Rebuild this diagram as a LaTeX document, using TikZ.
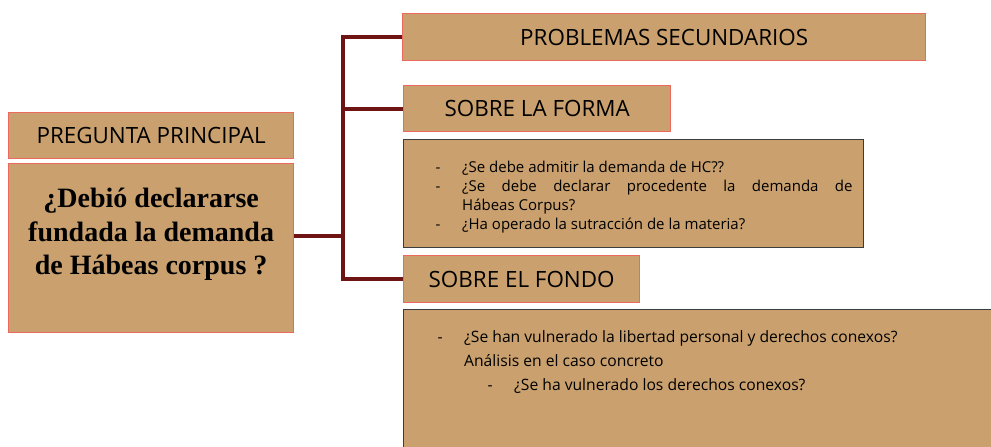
\documentclass[tikz,border=0pt]{standalone}
\usepackage{fontspec}
\setmainfont{Open Sans}
\newfontfamily\questionfont{Liberation Serif}

\definecolor{boxtan}{RGB}{201,160,110}
\definecolor{boxedge}{RGB}{235,105,95}
\definecolor{linkred}{RGB}{110,20,20}
\definecolor{listedge}{RGB}{60,60,60}

\tikzset{
	headbox/.style = {draw = boxedge, fill = boxtan, line width = 1pt, anchor = north west, inner sep = 0pt, text = black, font = \fontsize{16.8}{20}\selectfont},
	listbox/.style = {draw = listedge, fill = boxtan, line width = 0.8pt, anchor = north west, inner ysep = 0pt, inner xsep = 8.25pt, align = justify, text = black, font = \fontsize{11.25}{14.25}\selectfont},
	link/.style = {draw = linkred, line width = 2.8pt}
}

\newcommand{\listdash}[2][0pt]{\par\noindent\hangindent = \dimexpr#1+20pt\relax\hangafter = 1\hspace*{#1}\makebox[20pt][l]{-}#2}

\begin{document}
\begin{tikzpicture}[x = 0.75pt, y = -0.75pt]

	\clip (0, 0) rectangle (991, 446);

	% Main question
	
	\node [headbox, minimum width = 213.75pt, minimum height = 34.5pt] (pp) at (8, 112) {PREGUNTA PRINCIPAL};
	\node [headbox, minimum width = 213.75pt, minimum height = 126.75pt, align = center, text depth = 25pt, font = \questionfont\bfseries\fontsize{21}{25}\selectfont] (main) at (8, 163) {¿Debió declararse\\fundada la demanda\\de Hábeas corpus ?};
	
	% Secondary problems
	
	\node [headbox, minimum width = 392.25pt, minimum height = 35.25pt] (prob) at (402, 13) {PROBLEMAS SECUNDARIOS};
	\node [headbox, minimum width = 200.25pt, minimum height = 34.5pt] (forma) at (403, 85) {SOBRE LA FORMA};
	\node [listbox, text width = 328.5pt, minimum height = 81pt] (formalist) at (403, 139) {\leftskip = 15.75pt
		\listdash{¿Se debe admitir la demanda de HC??}
		\listdash{¿Se debe declarar procedente la demanda de\linebreak Hábeas Corpus?}
		\listdash{¿Ha operado la sutracción de la materia?}\par};
	\node [headbox, minimum width = 177pt, minimum height = 35.25pt] (fondo) at (403, 255) {SOBRE EL FONDO};
	\node [listbox, text width = 500pt, inner ysep = 7pt, font = \fontsize{11.75}{18}\selectfont] (fondolist) at (403, 309) {\leftskip = 17.25pt
		\listdash{¿Se han vulnerado la libertad personal y derechos conexos?\newline Análisis en el caso concreto}
		\listdash[37.5pt]{¿Se ha vulnerado los derechos conexos?}\par\vspace{120pt}};
	
	% Connectors
	
	\coordinate (trunk) at (343, 236);
	\draw [link] (main.east |- trunk) -- (trunk);
	\draw [link] (prob.west) -- (trunk |- prob.west) -- (trunk |- fondo.west) -- (fondo.west);
	\draw [link] (trunk |- forma.west) -- (forma.west);

\end{tikzpicture}
\end{document}
